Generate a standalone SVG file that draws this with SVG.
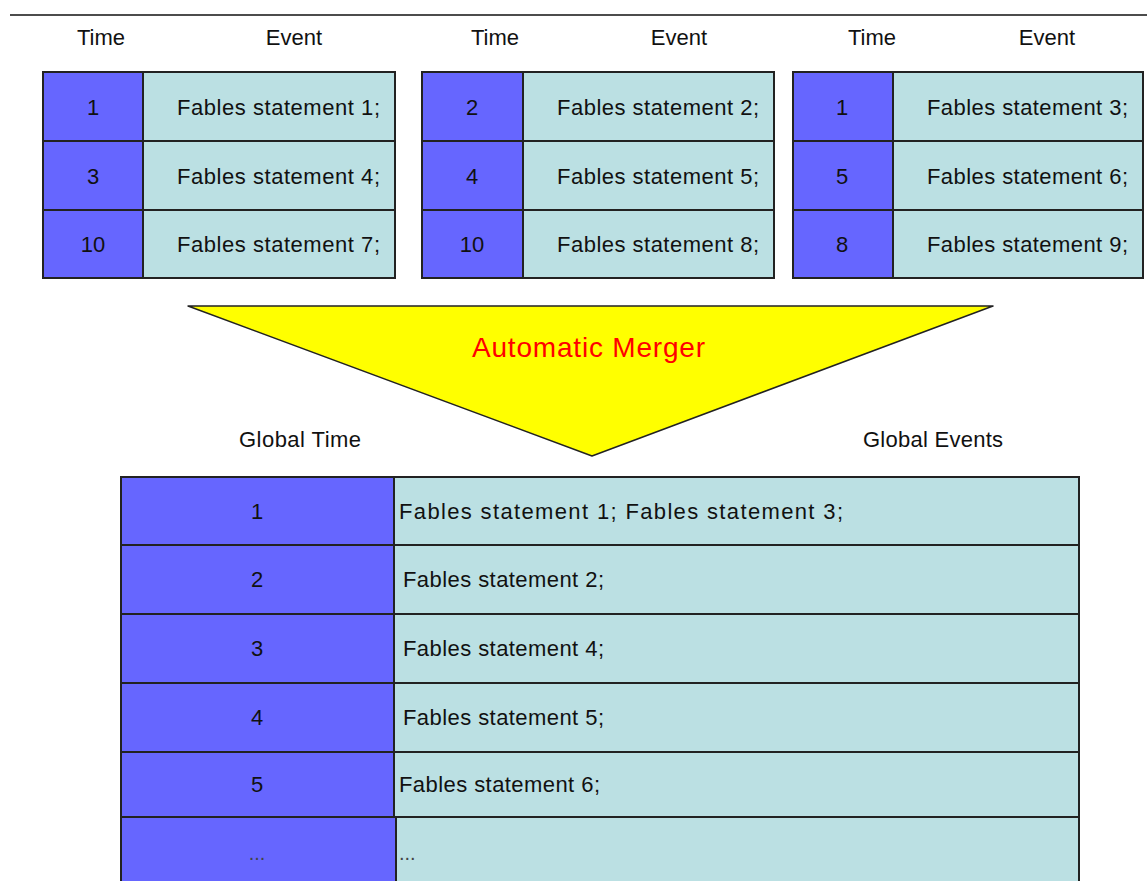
<svg xmlns="http://www.w3.org/2000/svg" width="1147" height="881" viewBox="0 0 1147 881">
<style>
  text { font-family: "Liberation Sans", Arial, sans-serif; font-size: 22px; fill: #111; }
  .c { text-anchor: middle; }
  .t { fill: #6666FF; stroke: #222; stroke-width: 2; }
  .e { fill: #BBE0E3; stroke: #222; stroke-width: 2; }
  .dots { font-size: 20px; fill: #444; }
</style>
<rect width="1147" height="881" fill="#FFFFFF"/>
<line x1="10" y1="15" x2="1147" y2="15" stroke="#111" stroke-width="1.5"/>

<g id="headers">
  <text class="c" x="101" y="45">Time</text>
  <text class="c" x="294" y="45">Event</text>
  <text class="c" x="495" y="45">Time</text>
  <text class="c" x="679" y="45">Event</text>
  <text class="c" x="872" y="45">Time</text>
  <text class="c" x="1047" y="45">Event</text>
</g>

<g id="table1">
  <rect class="t" x="43" y="72" width="100" height="69"/>
  <rect class="e" x="143" y="72" width="252" height="69"/>
  <rect class="t" x="43" y="141" width="100" height="69"/>
  <rect class="e" x="143" y="141" width="252" height="69"/>
  <rect class="t" x="43" y="210" width="100" height="68"/>
  <rect class="e" x="143" y="210" width="252" height="68"/>
  <text class="c" x="93" y="115">1</text>
  <text class="c" x="93" y="184">3</text>
  <text class="c" x="93" y="252">10</text>
  <text x="177" y="115" textLength="203" lengthAdjust="spacing">Fables statement 1;</text>
  <text x="177" y="184" textLength="203" lengthAdjust="spacing">Fables statement 4;</text>
  <text x="177" y="252" textLength="203" lengthAdjust="spacing">Fables statement 7;</text>
</g>

<g id="table2">
  <rect class="t" x="422" y="72" width="101" height="69"/>
  <rect class="e" x="523" y="72" width="251" height="69"/>
  <rect class="t" x="422" y="141" width="101" height="69"/>
  <rect class="e" x="523" y="141" width="251" height="69"/>
  <rect class="t" x="422" y="210" width="101" height="68"/>
  <rect class="e" x="523" y="210" width="251" height="68"/>
  <text class="c" x="472" y="115">2</text>
  <text class="c" x="472" y="184">4</text>
  <text class="c" x="472" y="252">10</text>
  <text x="557" y="115" textLength="202" lengthAdjust="spacing">Fables statement 2;</text>
  <text x="557" y="184" textLength="202" lengthAdjust="spacing">Fables statement 5;</text>
  <text x="557" y="252" textLength="202" lengthAdjust="spacing">Fables statement 8;</text>
</g>

<g id="table3">
  <rect class="t" x="793" y="72" width="100" height="69"/>
  <rect class="e" x="893" y="72" width="250" height="69"/>
  <rect class="t" x="793" y="141" width="100" height="69"/>
  <rect class="e" x="893" y="141" width="250" height="69"/>
  <rect class="t" x="793" y="210" width="100" height="68"/>
  <rect class="e" x="893" y="210" width="250" height="68"/>
  <text class="c" x="842" y="115">1</text>
  <text class="c" x="842" y="184">5</text>
  <text class="c" x="842" y="252">8</text>
  <text x="927" y="115" textLength="201" lengthAdjust="spacing">Fables statement 3;</text>
  <text x="927" y="184" textLength="201" lengthAdjust="spacing">Fables statement 6;</text>
  <text x="927" y="252" textLength="201" lengthAdjust="spacing">Fables statement 9;</text>
</g>

<g id="merger">
  <polygon points="188,306 993,306 592,456" fill="#FFFF00" stroke="#222" stroke-width="1.5" stroke-linejoin="round"/>
  <text x="472" y="357" style="font-size:28px;fill:#FF0000" textLength="233" lengthAdjust="spacing">Automatic Merger</text>
</g>

<g id="global-labels">
  <text x="239" y="447" textLength="122" lengthAdjust="spacing">Global Time</text>
  <text x="863" y="447" textLength="140" lengthAdjust="spacing">Global Events</text>
</g>

<g id="global-table">
  <rect class="t" x="121" y="477" width="273" height="68"/>
  <rect class="e" x="394" y="477" width="685" height="68"/>
  <rect class="t" x="121" y="545" width="273" height="69"/>
  <rect class="e" x="394" y="545" width="685" height="69"/>
  <rect class="t" x="121" y="614" width="273" height="69"/>
  <rect class="e" x="394" y="614" width="685" height="69"/>
  <rect class="t" x="121" y="683" width="273" height="69"/>
  <rect class="e" x="394" y="683" width="685" height="69"/>
  <rect class="t" x="121" y="752" width="273" height="65"/>
  <rect class="e" x="394" y="752" width="685" height="65"/>
  <rect class="t" x="121" y="817" width="275" height="80"/>
  <rect class="e" x="396" y="817" width="683" height="80"/>
  <text class="c" x="257" y="519">1</text>
  <text class="c" x="257" y="587">2</text>
  <text class="c" x="257" y="656">3</text>
  <text class="c" x="257" y="725">4</text>
  <text class="c" x="257" y="792">5</text>
  <text class="c dots" x="257" y="860">...</text>
  <text x="399" y="519" textLength="444" lengthAdjust="spacing">Fables statement 1; Fables statement 3;</text>
  <text x="403" y="587" textLength="201" lengthAdjust="spacing">Fables statement 2;</text>
  <text x="403" y="656" textLength="201" lengthAdjust="spacing">Fables statement 4;</text>
  <text x="403" y="725" textLength="201" lengthAdjust="spacing">Fables statement 5;</text>
  <text x="399" y="792" textLength="201" lengthAdjust="spacing">Fables statement 6;</text>
  <text class="dots" x="399" y="860">...</text>
</g>
</svg>
